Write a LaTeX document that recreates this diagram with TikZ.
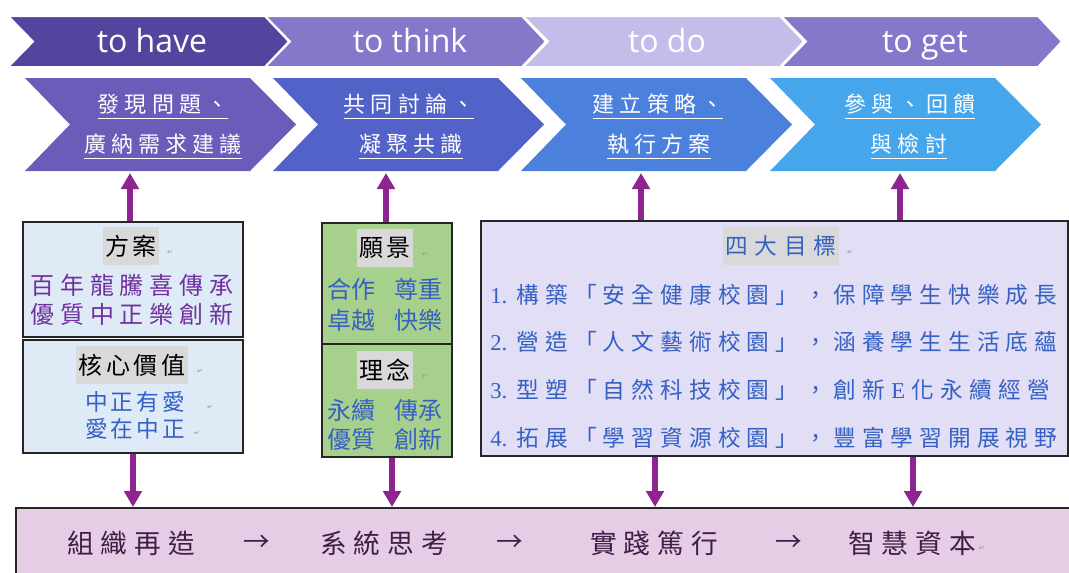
\documentclass[tikz,border=0pt]{standalone}
\usepackage{fontspec}
\setmainfont{Liberation Serif}
\newfontfamily\cjk{Noto Sans CJK TC}
\newfontfamily\latsans{Open Sans}
\newfontfamily\symf{DejaVu Sans}
\usetikzlibrary{arrows.meta}
\definecolor{tc1}{HTML}{55449E}
\definecolor{tc2}{HTML}{8677CB}
\definecolor{tc3}{HTML}{C3BDEA}
\definecolor{rc1}{HTML}{6A5CB8}
\definecolor{rc2}{HTML}{5362C8}
\definecolor{rc3}{HTML}{4B80DC}
\definecolor{rc4}{HTML}{45A6EB}
\definecolor{lblue}{HTML}{DEEBF7}
\definecolor{lgreen}{HTML}{A8D08D}
\definecolor{lvio}{HTML}{E1DEF5}
\definecolor{lpink}{HTML}{E6CDE6}
\definecolor{hl}{HTML}{D9D9D9}
\definecolor{ptxt}{HTML}{7030A0}
\definecolor{btxt}{HTML}{3560C4}
\definecolor{dtxt}{HTML}{3F1E48}
\definecolor{arrc}{HTML}{8E2490}
\tikzset{
  topchev/.style={fill=#1, draw=white, line width=1.5pt},
  rowchev/.style={fill=#1},
  toptxt/.style={text=white, anchor=base, inner sep=0, font=\latsans\fontsize{24}{24}\selectfont},
  rowtxt/.style={text=white, inner sep=0, font=\cjk\fontsize{16.5}{16.5}\selectfont\addfontfeatures{LetterSpace=23}},
  uline/.style={draw=white, line width=1.2pt},
  box/.style={draw=black!85, line width=1.5pt, inner sep=0, anchor=north west},
  ttl/.style={fill=hl, inner xsep=2pt, inner ysep=0pt, minimum height=28.5pt, font=\cjk\fontsize{18}{18}\selectfont\addfontfeatures{LetterSpace=15}},
  ptext/.style={text=ptxt, inner sep=0, font=\cjk\fontsize{18}{18}\selectfont\addfontfeatures{LetterSpace=24}},
  btext/.style={text=btxt, inner sep=0, font=\cjk\fontsize{17}{17}\selectfont\addfontfeatures{LetterSpace=13}},
  gtext/.style={text=btxt, inner sep=0, font=\cjk\fontsize{18}{18}\selectfont},
  goaltxt/.style={text=btxt, inner sep=0, anchor=west, font=\cjk\fontsize{17}{17}\selectfont\addfontfeatures{LetterSpace=27}},
  bottxt/.style={text=dtxt, inner sep=0, font=\cjk\fontsize{20}{20}\selectfont\addfontfeatures{LetterSpace=26}},
  pmark/.style={text=black!45, inner sep=0, font=\symf\fontsize{5}{5}\selectfont},
  arr/.style={draw=arrc, line width=3.8pt, -{Triangle[length=12pt,width=13pt]}}
}
\begin{document}
\begin{tikzpicture}[x=0.75pt,y=-0.75pt]
\useasboundingbox (0,0) rectangle (1069,572);
% top chevrons
\foreach \xo/\cc in {8/tc1,265/tc2,523/tc3,781/tc2}{
  \path[topchev=\cc] (\xo,16) -- ++(257,0) -- ++(24,25.5) -- ++(-24,25.5) -- ++(-257,0) -- ++(25,-25.5) -- cycle;
}
\node[toptxt] (t1) at (152,52) {to have};
\node[toptxt] (t2) at (410,52) {to think};
\node[toptxt] (t3) at (667,52) {to do};
\node[toptxt] (t4) at (925,52) {to get};
% second row chevrons
\foreach \xo/\cc in {25/rc1,273/rc2,521/rc3,770/rc4}{
  \path[rowchev=\cc] (\xo,78) -- ++(225,0) -- ++(46,46.5) -- ++(-46,46.5) -- ++(-225,0) -- ++(45,-46.5) -- cycle;
}
\node[rowtxt] (a1) at (163,104) {發現問題、};
\node[rowtxt] (a2) at (163,144) {廣納需求建議};
\node[rowtxt] (b1) at (409,104) {共同討論、};
\node[rowtxt] (b2) at (411,144) {凝聚共識};
\node[rowtxt] (c1) at (658,104) {建立策略、};
\node[rowtxt] (c2) at (659,144) {執行方案};
\node[rowtxt] (d1) at (910,104) {參與、回饋};
\node[rowtxt] (d2) at (909,144) {與檢討};
\foreach \n in {a1,a2,b1,b2,c1,c2,d1,d2}{
  \draw[uline] ([yshift=-3pt]\n.south west) -- ([yshift=-3pt]\n.south east);
}
% boxes
\node[box, fill=lblue, minimum width=165pt, minimum height=86.25pt] (fangan) at (22,221) {};
\node[box, fill=lblue, minimum width=165pt, minimum height=84.75pt] (hexin) at (22,339) {};
\node[box, fill=lgreen, minimum width=97.5pt, minimum height=90.75pt] (yuan) at (321,222) {};
\node[box, fill=lgreen, minimum width=97.5pt, minimum height=84.75pt] (linian) at (321,343) {};
\node[box, fill=lvio, minimum width=440.25pt, minimum height=176.25pt] (goals) at (480,220) {};
\node[box, fill=lpink, line width=1.2pt, minimum width=795pt, minimum height=54.75pt] (bottom) at (15,507) {};
% box texts
\node[ttl] (fa) at (131,246) {方案};
\node[pmark] at (170,252) {↵};
\node[ptext] (fa1) at (132,285) {百年龍騰喜傳承};
\node[ptext] (fa2) at (132,314) {優質中正樂創新};
\node[ttl] (hx) at (132,365) {核心價值};
\node[pmark] at (200,371) {↵};
\node[btext] (hx1) at (135,402) {中正有愛};
\node[pmark] at (210,407) {↵};
\node[btext] (hx2) at (135,429) {愛在中正};
\node[pmark] at (197,433) {↵};
\node[ttl] (yj) at (385,248) {願景};
\node[pmark] at (425,254) {↵};
\node[gtext] (yj1) at (385,289) {合作\hspace{15pt}尊重};
\node[gtext] (yj2) at (385,320) {卓越\hspace{15pt}快樂};
\node[ttl] (ln) at (385,370) {理念};
\node[pmark] at (425,376) {↵};
\node[gtext] (ln1) at (385,410) {永續\hspace{15pt}傳承};
\node[gtext] (ln2) at (385,439) {優質\hspace{15pt}創新};
\node[ttl, text=btxt, font=\cjk\fontsize{17}{17}\selectfont\addfontfeatures{LetterSpace=30}] (gt) at (781,246) {四大目標};
\node[pmark] at (850,252) {↵};
\node[goaltxt] (g1) at (490,295) {{\rmfamily 1.}\hspace{7pt}構築「安全健康校園」，保障學生快樂成長};
\node[goaltxt] (g2) at (490,342) {{\rmfamily 2.}\hspace{7pt}營造「人文藝術校園」，涵養學生生活底蘊};
\node[goaltxt] (g3) at (490,390) {{\rmfamily 3.}\hspace{7pt}型塑「自然科技校園」，創新\hspace{5pt}{\rmfamily E}\hspace{5pt}化永續經營};
\node[goaltxt] (g4) at (490,438) {{\rmfamily 4.}\hspace{7pt}拓展「學習資源校園」，豐富學習開展視野};
% bottom texts
\node[bottxt] (s1) at (131,543) {組織再造};
\node[bottxt] (r1) at (257,543) {→};
\node[bottxt] (s2) at (384,543) {系統思考};
\node[bottxt] (r2) at (510,543) {→};
\node[bottxt] (s3) at (654,543) {實踐篤行};
\node[bottxt] (r3) at (789,543) {→};
\node[bottxt] (s4) at (912,543) {智慧資本};
\node[pmark] at (982,548) {↵};
% arrow end coordinates
\coordinate (ua) at (130,173);
\coordinate (ub) at (386,173);
\coordinate (uc) at (641,173);
\coordinate (ud) at (900,173);
\coordinate (da) at (133,507);
\coordinate (db) at (392,507);
\coordinate (dc) at (655,507);
\coordinate (dd) at (913,507);
\draw[arr] (fangan.north -| ua) -- (ua);
\draw[arr] (yuan.north -| ub) -- (ub);
\draw[arr] (goals.north -| uc) -- (uc);
\draw[arr] (goals.north -| ud) -- (ud);
\draw[arr] (hexin.south -| da) -- (bottom.north -| da);
\draw[arr] (linian.south -| db) -- (bottom.north -| db);
\draw[arr] (goals.south -| dc) -- (bottom.north -| dc);
\draw[arr] (goals.south -| dd) -- (bottom.north -| dd);
\end{tikzpicture}
\end{document}
